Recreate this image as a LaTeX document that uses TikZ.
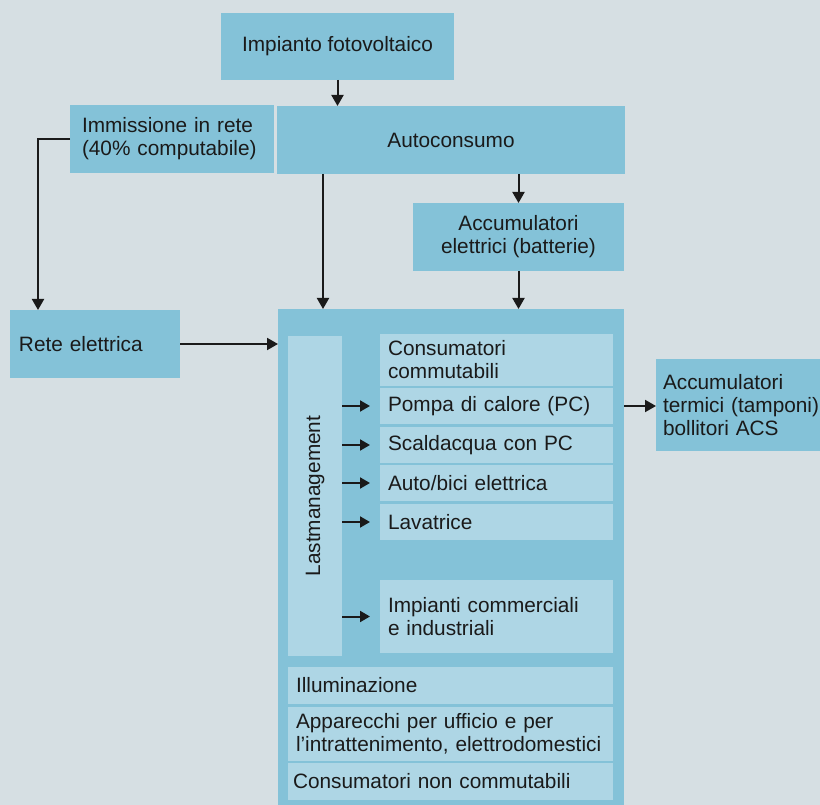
\documentclass[tikz,border=0pt]{standalone}
\usepackage{fontspec}
\usepackage{graphicx}
\setmainfont{Liberation Sans}
\usetikzlibrary{arrows.meta}
\definecolor{bg}{HTML}{D6DFE3}
\definecolor{boxdark}{HTML}{84C2D8}
\definecolor{boxlight}{HTML}{AED6E5}
\definecolor{ink}{HTML}{1A1A1A}
\begin{document}
\begin{tikzpicture}[x=1pt,y=-1pt,
  font=\fontsize{20.8}{23}\selectfont, text=ink,
  cell/.style={draw=none, anchor=north west, inner ysep=0pt, outer sep=0pt},
  dark/.style={cell, fill=boxdark},
  light/.style={cell, fill=boxlight},
  conn/.style={draw=ink, line width=2pt},
  arr/.style={conn, -{Triangle[width=12pt,length=11pt]}},
  sarr/.style={conn, -{Triangle[width=11pt,length=10pt]}, shorten >=10pt},
]
\useasboundingbox (0,0) rectangle (820,805);
\fill[bg] (0,0) rectangle (820,805);

% upper chain
\node[dark, minimum width=233pt, minimum height=67pt, align=center] (imp) at (221,13) {Impianto fotovoltaico};
\node[dark, minimum width=204pt, minimum height=68pt, inner xsep=12pt, text width=180pt, align=left] (imm) at (70,105) {Immissione in rete\\(40\% computabile)};
\node[dark, minimum width=348pt, minimum height=68pt, align=center] (auto) at (277,106) {Autoconsumo};
\node[dark, minimum width=211pt, minimum height=68pt, align=center] (acc) at (413,203) {Accumulatori\\elettrici (batterie)};
\node[dark, minimum width=170pt, minimum height=68pt, inner xsep=9pt, text width=152pt, align=left] (rete) at (10,310) {Rete elettrica};

% consumers block
\node[dark, minimum width=346pt, minimum height=500pt] (big) at (278,309) {};
\node[light, minimum width=54pt, minimum height=320pt, inner xsep=0pt] (lm) at (288,336) {\rotatebox{90}{Lastmanagement}};
\tikzset{item/.style={light, minimum width=233pt, inner xsep=8pt, text width=217pt, align=left}}
\node[item, minimum height=52pt] (cc) at (380,334) {Consumatori\\commutabili};
\node[item, minimum height=36pt] (pompa) at (380,388) {Pompa di calore (PC)};
\node[item, minimum height=36pt] (scald) at (380,427) {Scaldacqua con PC};
\node[item, minimum height=36pt] (bici) at (380,465) {Auto/bici elettrica};
\node[item, minimum height=36pt] (lav) at (380,504) {Lavatrice};
\node[item, minimum height=73pt] (ind) at (380,580) {Impianti commerciali\\e industriali};
\tikzset{wide/.style={light, minimum width=325pt, inner xsep=8pt, text width=309pt, align=left}}
\node[wide, minimum height=37pt] (ill) at (288,667) {Illuminazione};
\node[wide, minimum height=54pt] (app) at (288,707) {Apparecchi per ufficio e per\\l’intrattenimento, elettrodomestici};
\node[wide, minimum height=37pt, inner xsep=5pt, text width=315pt] (ncm) at (288,763) {Consumatori non commutabili};

\node[dark, minimum width=200pt, minimum height=92pt, inner xsep=7pt, text width=186pt, align=left] (term) at (656,359) {Accumulatori\\termici (tamponi),\\bollitori ACS};

% connectors
\draw[arr] (imp.south) -- (imp.south |- auto.north);
\draw[arr] (imm.west) -| ([xshift=28pt]rete.north west);
\draw[arr] ([xshift=46pt]auto.south west) -- ([xshift=46pt]auto.south west |- big.north);
\draw[arr] (acc.north |- auto.south) -- (acc.north);
\draw[arr] (acc.south) -- (acc.south |- big.north);
\draw[arr] (rete.east) -- (rete.east -| big.west);
\draw[arr] (pompa.east -| big.east) -- (pompa.east -| term.west);
\foreach \t in {pompa,scald,bici,lav,ind}
  \draw[sarr] (lm.east |- \t.west) -- (\t.west);
\end{tikzpicture}
\end{document}
